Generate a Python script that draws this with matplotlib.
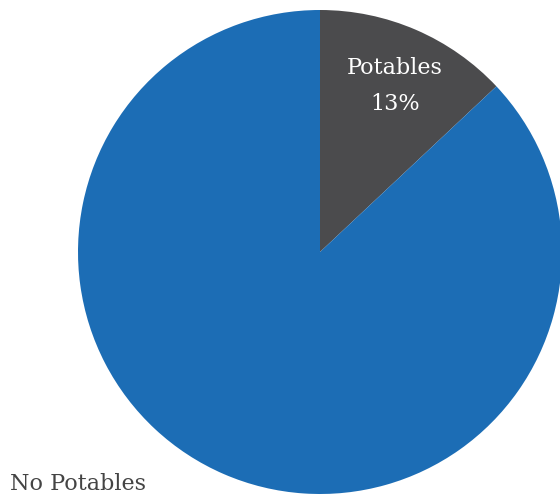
import matplotlib
matplotlib.use("Agg")
import matplotlib.pyplot as plt

categories = ["Potables", "No Potables"]
shares = [13, 87]
colors = ["#4b4b4d", "#1c6db5"]

W, H = 560, 495
fig = plt.figure(figsize=(W / 100, H / 100), dpi=100)
ax = fig.add_axes([0, 0, 1, 1])

cx, cy, r = 320, H - 252, 242
ax.pie(shares, colors=colors, startangle=90, counterclock=False,
       center=(cx, cy), radius=r, frame=True,
       wedgeprops=dict(linewidth=0))
ax.set_xlim(0, W)
ax.set_ylim(0, H)
ax.set_aspect("equal")
ax.axis("off")

font = dict(family="DejaVu Serif")
ax.text(395, H - 68, categories[0], color="white", fontsize=16,
        ha="center", va="center", **font)
ax.text(395, H - 104, f"{shares[0]}%", color="white", fontsize=16,
        ha="center", va="center", **font)
ax.text(10, H - 484, categories[1], color="#444444", fontsize=16,
        ha="left", va="center", **font)

fig.savefig("out.png", dpi=100)
